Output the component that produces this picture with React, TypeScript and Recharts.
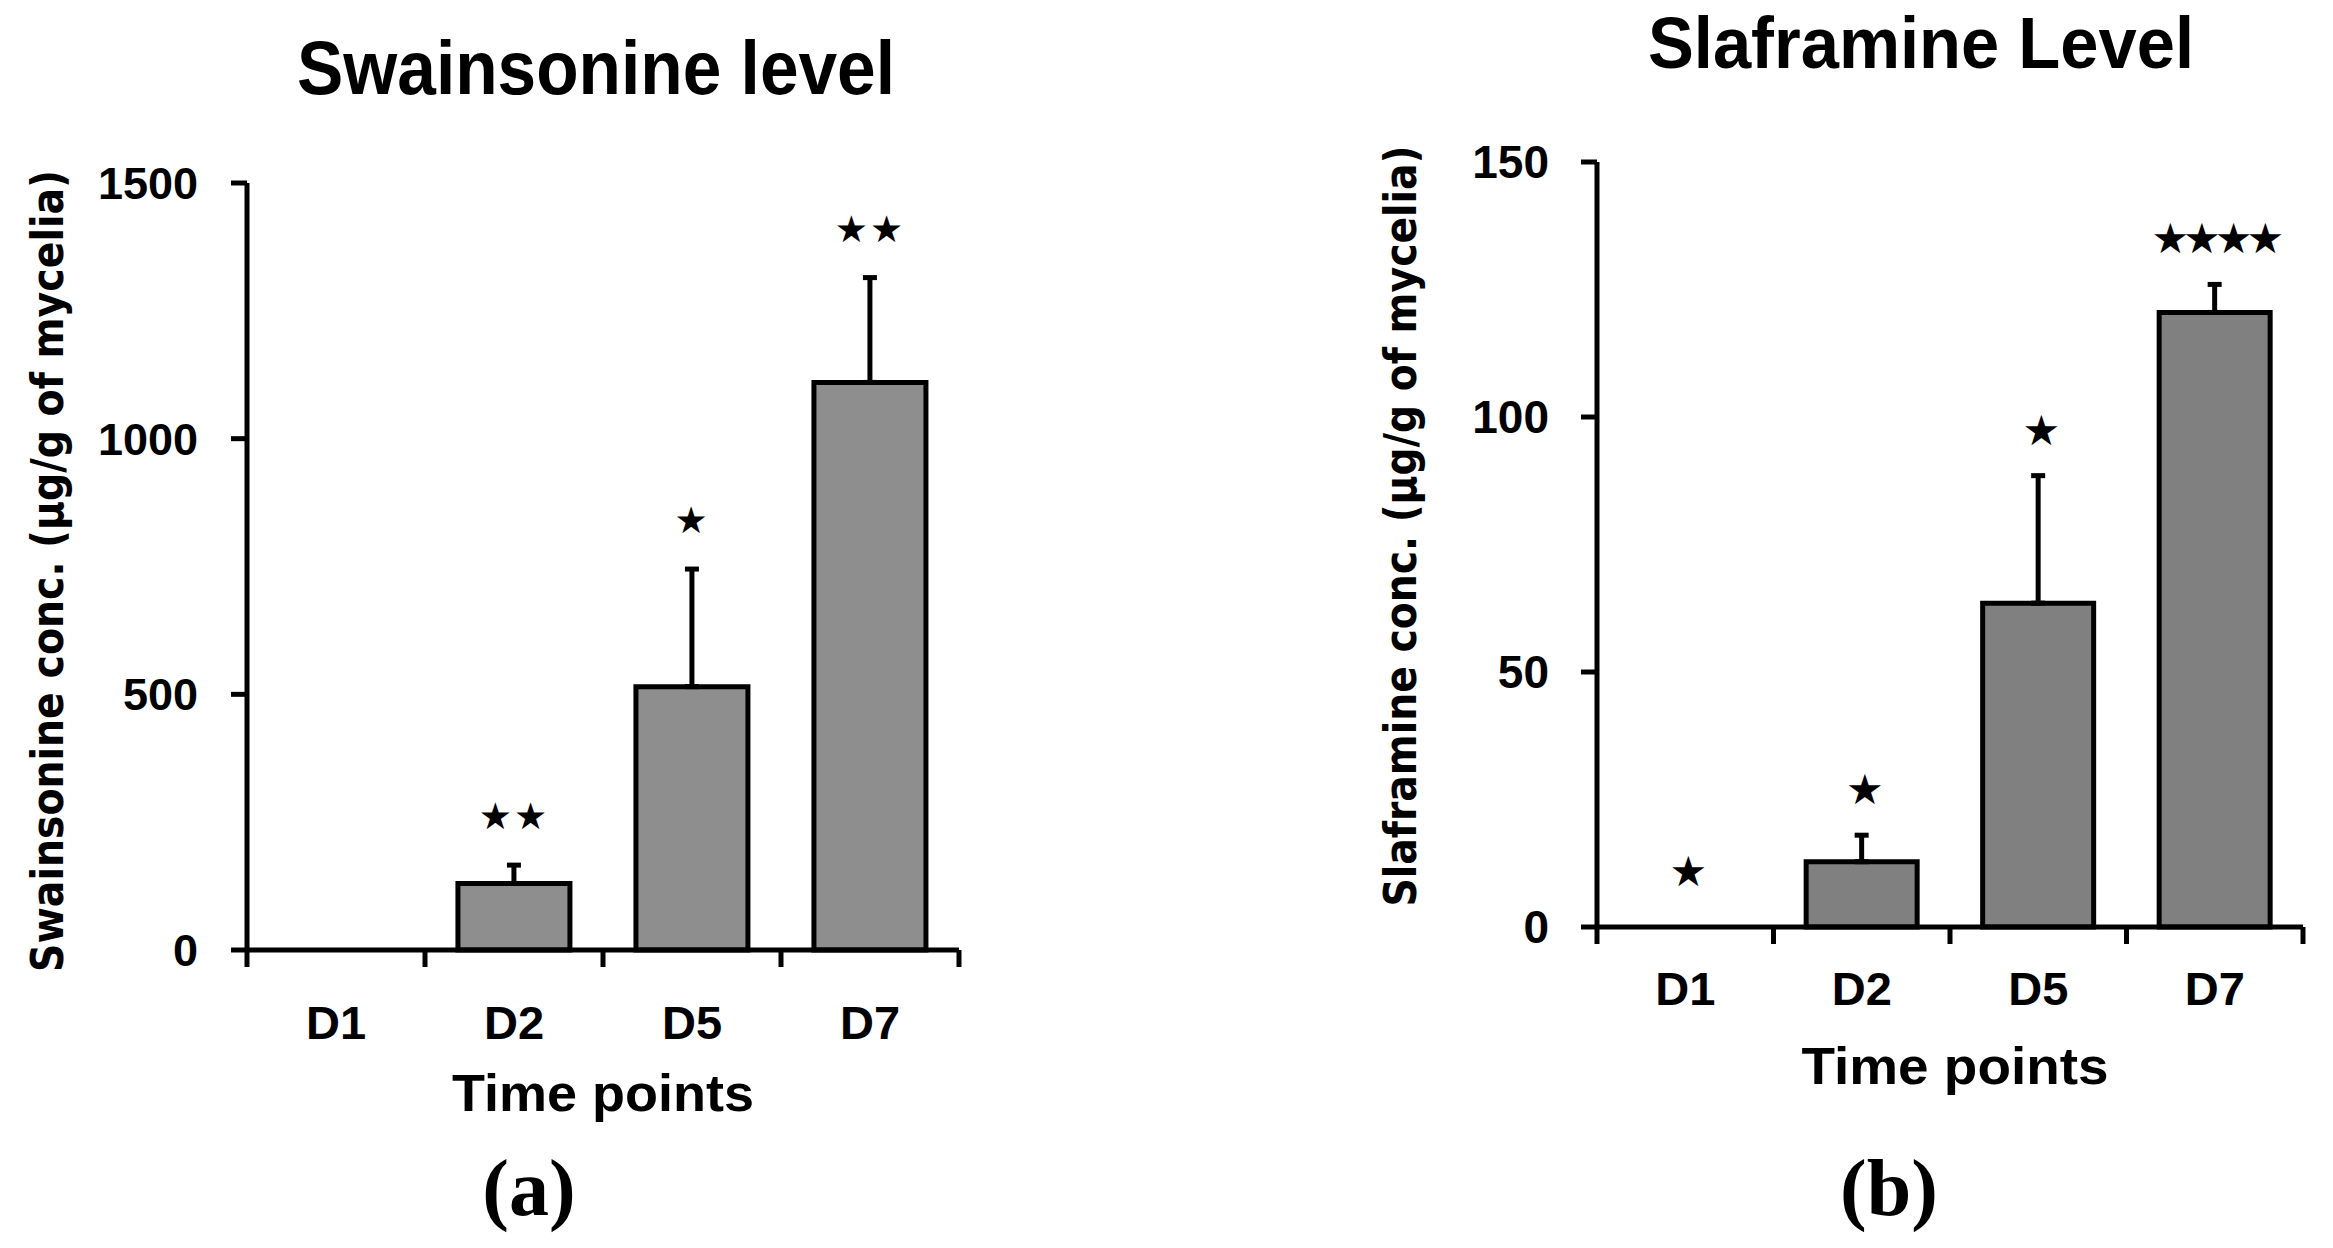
import React from 'react';
import { ComposedChart, Bar, Line, XAxis, YAxis, ErrorBar, LabelList } from 'recharts';

const categories = ['D1', 'D2', 'D5', 'D7'];

const swainsonineMeans = [0, 130, 515, 1110];
const swainsonineErrors = [0, 36, 230, 205];
const swainsonineStars = ['', '★★', '★', '★★'];
const swainsonineTicks = [0, 500, 1000, 1500];

const slaframineMeans = [0, 12.8, 63.5, 120.5];
const slaframineErrors = [2, 5.2, 25, 5.5];
const slaframineStars = ['★', '★', '★', '★★★★'];
const slaframineTicks = [0, 50, 100, 150];

function buildRows(means: number[], errors: number[], stars: string[]) {
  return categories.map((c, i) => ({
    cat: c,
    mean: means[i],
    err: [0, errors[i]],
    top: means[i] + errors[i],
    stars: stars[i],
  }));
}

const swainsonineRows = buildRows(swainsonineMeans, swainsonineErrors, swainsonineStars);
const slaframineRows = buildRows(slaframineMeans, slaframineErrors, slaframineStars);

type PanelProps = {
  left: number;
  width: number;
  margin: { top: number; right: number; bottom: number; left: number };
  rows: any[];
  ticks: number[];
  fill: string;
  tickMargin: number;
  tickFont: number;
  xLabelDy: number;
  starFont: number;
  starOffset: number;
  starSpacing: number;
};

const SANS = "'Liberation Sans', Arial, sans-serif";

function Panel(p: PanelProps) {
  const plotWidth = p.width - p.margin.left - p.margin.right - 200;
  const band = plotWidth / categories.length;
  const renderTick = (props: any) => {
    const { x, y, payload, index } = props;
    return (
      <g>
        <line x1={x - band / 2} x2={x - band / 2} y1={y} y2={y + 17} stroke="#000" strokeWidth={5} />
        {index === categories.length - 1 ? (
          <line x1={x + band / 2} x2={x + band / 2} y1={y} y2={y + 17} stroke="#000" strokeWidth={5} />
        ) : null}
        <text x={x} y={y + p.xLabelDy} textAnchor="middle" fill="#000" fontSize={47} fontWeight={700} fontFamily={SANS}>
          {payload.value}
        </text>
      </g>
    );
  };
  return (
    <div style={{ position: 'absolute', left: p.left, top: 0 }}>
      <ComposedChart width={p.width} height={1248} data={p.rows} margin={p.margin} barCategoryGap="18.5%">
        <XAxis
          dataKey="cat"
          type="category"
          interval={0}
          height={100}
          tickSize={0}
          tickMargin={0}
          tickLine={false}
          axisLine={{ stroke: '#000', strokeWidth: 5 }}
          tick={renderTick}
        />
        <YAxis
          type="number"
          domain={[p.ticks[0], p.ticks[p.ticks.length - 1]]}
          ticks={p.ticks}
          interval={0}
          width={200}
          tickSize={16}
          tickMargin={p.tickMargin}
          axisLine={{ stroke: '#000', strokeWidth: 5 }}
          tickLine={{ stroke: '#000', strokeWidth: 5 }}
          tick={{ fill: '#000', fontSize: p.tickFont, fontWeight: 700, fontFamily: SANS }}
        />
        <Bar dataKey="mean" fill={p.fill} stroke="#000" strokeWidth={5} isAnimationActive={false}>
          <ErrorBar dataKey="err" direction="y" width={7} strokeWidth={5} stroke="#000" />
        </Bar>
        <Line
          dataKey="top"
          stroke="none"
          dot={false}
          activeDot={false}
          legendType="none"
          isAnimationActive={false}
        >
          <LabelList
            dataKey="stars"
            position="top"
            offset={p.starOffset}
            fill="#000"
            fontSize={p.starFont}
            fontFamily="'DejaVu Sans'"
            letterSpacing={p.starSpacing}
          />
        </Line>
      </ComposedChart>
    </div>
  );
}

export default function App() {
  return (
    <div style={{ position: 'absolute', left: 0, top: 0, width: 2333, height: 1248, background: '#fff', overflow: 'hidden' }}>
      <Panel
        left={0}
        width={1166}
        margin={{ top: 183, right: 207, bottom: 198, left: 47 }}
        rows={swainsonineRows}
        ticks={swainsonineTicks}
        fill="#8e8e8e"
        tickMargin={33}
        tickFont={45}
        xLabelDy={89}
        starFont={37}
        starOffset={36}
        starSpacing={2}
      />
      <Panel
        left={1166}
        width={1167}
        margin={{ top: 162, right: 30, bottom: 221, left: 231 }}
        rows={slaframineRows}
        ticks={slaframineTicks}
        fill="#808080"
        tickMargin={32}
        tickFont={46}
        xLabelDy={78}
        starFont={42}
        starOffset={31}
        starSpacing={-6}
      />
      <svg
        width={2333}
        height={1248}
        style={{ position: 'absolute', left: 0, top: 0, pointerEvents: 'none' }}
      >
        <text x={596} y={94} textAnchor="middle" fontSize={76} fontWeight={700} fontFamily={SANS} textLength={598} lengthAdjust="spacingAndGlyphs">
          Swainsonine level
        </text>
        <text x={1921} y={68} textAnchor="middle" fontSize={72} fontWeight={700} fontFamily={SANS} textLength={546} lengthAdjust="spacingAndGlyphs">
          Slaframine Level
        </text>
        <text
          transform="translate(63,571) rotate(-90)"
          textAnchor="middle"
          fontSize={44}
          fontWeight={700}
          fontFamily="'DejaVu Sans'"
          textLength={802}
          lengthAdjust="spacingAndGlyphs"
        >
          Swainsonine conc. (μg/g of mycelia)
        </text>
        <text
          transform="translate(1416,526) rotate(-90)"
          textAnchor="middle"
          fontSize={44}
          fontWeight={700}
          fontFamily="'DejaVu Sans'"
          textLength={761}
          lengthAdjust="spacingAndGlyphs"
        >
          Slaframine conc. (μg/g of mycelia)
        </text>
        <text x={603} y={1111} textAnchor="middle" fontSize={52} fontWeight={700} fontFamily={SANS} textLength={302} lengthAdjust="spacingAndGlyphs">
          Time points
        </text>
        <text x={1955} y={1084} textAnchor="middle" fontSize={52} fontWeight={700} fontFamily={SANS} textLength={307} lengthAdjust="spacingAndGlyphs">
          Time points
        </text>
        <text x={529} y={1215} textAnchor="middle" fontSize={80} fontWeight={700} fontFamily="'Liberation Serif', serif">
          (a)
        </text>
        <text x={1889} y={1215} textAnchor="middle" fontSize={80} fontWeight={700} fontFamily="'Liberation Serif', serif">
          (b)
        </text>
      </svg>
    </div>
  );
}
